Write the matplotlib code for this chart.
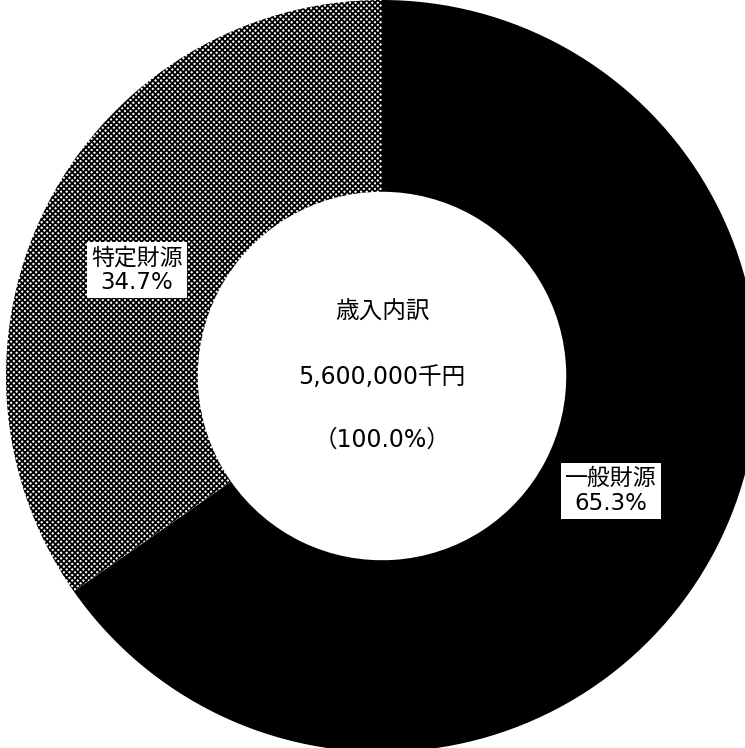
import matplotlib.pyplot as plt

plt.rcParams['font.family'] = ['DejaVu Sans', 'Noto Sans CJK JP']
plt.rcParams['hatch.linewidth'] = 1.3

labels = ['一般財源', '特定財源']
shares = [65.3, 34.7]
center_lines = ['歳入内訳', '5,600,000千円', '(100.0%)']

fig = plt.figure(figsize=(7.45, 7.48), dpi=100)
ax = fig.add_axes([0, 0, 1, 1])

cx, cy, r = 382, 748 - 376, 376
wedges, _ = ax.pie(shares, startangle=90, counterclock=False,
                   colors=['black', 'white'], radius=r, center=(cx, cy),
                   wedgeprops=dict(width=r * 0.51, edgecolor='black', linewidth=0))
wedges[1].set_hatch('xxxxxx')

ax.set_xlim(0, 745)
ax.set_ylim(0, 748)
ax.set_aspect('equal')
ax.axis('off')

box = dict(boxstyle='square,pad=0.2', facecolor='white', edgecolor='none')
ax.text(611, 748 - 491, f'{labels[0]}\n{shares[0]}%', ha='center', va='center',
        fontsize=16.5, linespacing=1.1, bbox=box)
ax.text(137, 748 - 270, f'{labels[1]}\n{shares[1]}%', ha='center', va='center',
        fontsize=16.5, linespacing=1.1, bbox=box)

for text, y in zip(center_lines, [312, 377, 440]):
    if text.startswith('('):
        text = '（' + text[1:-1] + '）'
    ax.text(cx, 748 - y, text, ha='center', va='center', fontsize=17)

fig.savefig('out.png', dpi=100)
